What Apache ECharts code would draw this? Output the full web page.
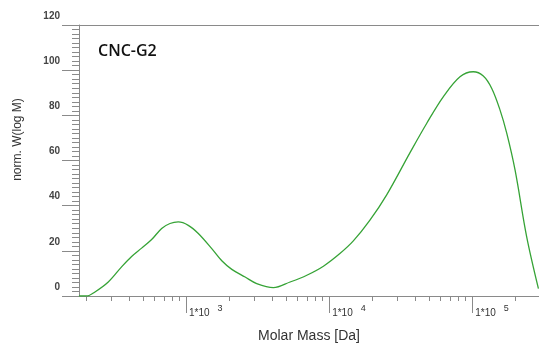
<!DOCTYPE html>
<html>
<head>
<meta charset="utf-8">
<script src="https://cdn.jsdelivr.net/npm/echarts@6/dist/echarts.min.js"></script>
<style>
html,body{margin:0;padding:0;background:#fff;}
#chart{width:539px;height:352px;}
</style>
</head>
<body>
<div id="chart"></div>
<script>
// log10 of molar mass [Da]
const logMolarMass = [2.252, 2.306, 2.364, 2.457, 2.550, 2.620, 2.690, 2.760, 2.830, 2.888, 2.946,
  3.016, 3.086, 3.180, 3.250, 3.320, 3.413, 3.494, 3.610, 3.727, 3.844, 3.960,
  4.075, 4.169, 4.285, 4.402, 4.565, 4.681, 4.797, 4.914,
  5.007, 5.077, 5.136, 5.194, 5.241, 5.299, 5.380, 5.462];
// norm. W(log M)
const wLogM = [0, 0, 1.8, 6.2, 12.9, 17.5, 21.2, 25.0, 29.9, 32.1, 32.8,
  31.3, 27.7, 21.0, 15.6, 11.8, 8.4, 5.5, 3.7, 6.2, 9.2, 13.2,
  18.8, 24.4, 33.6, 44.8, 63.5, 76.4, 88.2, 97.1,
  99.3, 97.4, 91.9, 82.3, 72.0, 55.7, 26.2, 3.3];

const sampleName = 'CNC-G2';
const xAxisTitle = 'Molar Mass [Da]';
const yAxisTitle = 'norm. W(log M)';
const majorExponents = [3, 4, 5];
const minorMultipliers = [2, 3, 4, 5, 6, 7, 8, 9];
const decades = [2, 3, 4, 5];
const yTickLabels = [0, 20, 40, 60, 80, 100, 120];

const xMin = 2.2525, xMax = 5.466;
const minorTicks = [];
decades.forEach(d => minorMultipliers.forEach(m => {
  const v = d + Math.log10(m);
  if (v >= xMin && v <= xMax) minorTicks.push(v);
}));

const axisGray = '#8a8a8a';
const font = 'Liberation Sans, Arial, sans-serif';

const chart = echarts.init(document.getElementById('chart'));
chart.setOption({
  animation: false,
  grid: { left: 79, right: 0, top: 25, bottom: 56 },
  title: {
    text: sampleName, left: 93, top: 38,
    textStyle: { fontFamily: 'Open Sans', fontSize: 16, fontWeight: 600, color: '#111' }
  },
  xAxis: [
    {
      type: 'value', min: xMin, max: xMax, position: 'bottom',
      axisLine: { show: true, lineStyle: { color: axisGray, width: 1 } },
      axisTick: { show: true, length: 5, customValues: minorTicks, lineStyle: { color: axisGray } },
      axisLabel: { show: false },
      splitLine: { show: false },
      name: xAxisTitle, nameLocation: 'middle', nameGap: 33,
      nameTextStyle: { fontFamily: font, fontSize: 14, color: '#333' }
    },
    {
      type: 'value', min: xMin, max: xMax, position: 'bottom',
      axisLine: { show: false },
      axisTick: { show: true, length: 17, customValues: majorExponents, lineStyle: { color: axisGray } },
      axisLabel: {
        show: true, customValues: majorExponents, align: 'left', margin: 8,
        formatter: v => '{a|1*10}{b|' + v + '}',
        rich: {
          a: { fontFamily: font, fontSize: 10, color: '#333', padding: [0, 0, 0, 3] },
          b: { fontFamily: font, fontSize: 9, color: '#333', padding: [0, 0, 10, 8] }
        }
      },
      splitLine: { show: false }
    },
    {
      type: 'value', min: xMin, max: xMax, position: 'top',
      axisLine: { show: true, lineStyle: { color: axisGray, width: 1 } },
      axisTick: { show: false }, axisLabel: { show: false }, splitLine: { show: false }
    }
  ],
  yAxis: [
    {
      type: 'value', min: 0, max: 120, interval: 20,
      axisLine: { show: true, lineStyle: { color: axisGray } },
      axisTick: { show: true, length: 17, customValues: yTickLabels, lineStyle: { color: axisGray } },
      minorTick: { show: true, splitNumber: 10, length: 7, lineStyle: { color: axisGray } },
      axisLabel: {
        show: true, customValues: yTickLabels, margin: 19, verticalAlign: 'bottom',
        fontFamily: font, fontSize: 10, fontWeight: 'bold', color: '#444',
        padding: [0, 0, 4, 0]
      },
      splitLine: { show: false },
      name: yAxisTitle, nameLocation: 'middle', nameGap: 55, nameRotate: 90,
      nameTextStyle: { fontFamily: font, fontSize: 12, color: '#333', padding: [0, 0, 0, 42] }
    },
    {
      type: 'value', min: 0, max: 120, interval: 10,
      axisLine: { show: false },
      axisTick: { show: true, length: 12, lineStyle: { color: axisGray } },
      axisLabel: { show: false }, splitLine: { show: false }
    }
  ],
  series: [{
    type: 'line',
    data: logMolarMass.map((x, i) => [x, wLogM[i]]),
    smooth: 0.35,
    showSymbol: false,
    clip: true,
    lineStyle: { color: '#36a336', width: 1.3 }
  }]
});
</script>
</body>
</html>
